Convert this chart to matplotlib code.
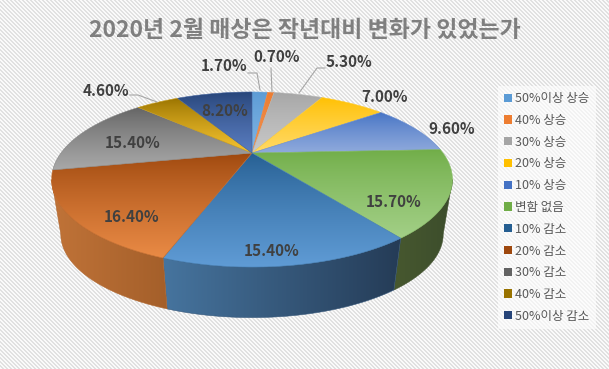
import matplotlib
matplotlib.use("Agg")
import matplotlib.pyplot as plt
import numpy as np
from matplotlib.patches import Patch, Polygon

plt.rcParams['font.family'] = ['Noto Sans CJK KR', 'DejaVu Sans']

title = "2020년 2월 매상은 작년대비 변화가 있었는가"
categories = ["50%이상 상승", "40% 상승", "30% 상승", "20% 상승", "10% 상승", "변함 없음",
              "10% 감소", "20% 감소", "30% 감소", "40% 감소", "50%이상 감소"]
values = [1.7, 0.7, 5.3, 7.0, 9.6, 15.7, 15.4, 16.4, 15.4, 4.6, 8.2]

top_dark = ["#5b9bd5", "#ed7d31", "#a5a5a5", "#ffc000", "#4472c4", "#70ad47",
            "#255e91", "#9e480e", "#636363", "#997300", "#264478"]
top_light = ["#7fb3e3", "#f09050", "#c8c8c8", "#ffd966", "#8faadc", "#a2cf86",
             "#5f9bd5", "#e98a45", "#a8a8a8", "#f5c330", "#5a7dc0"]
side_left = ["#3f6a92", "#a05a28", "#777777", "#b08a20", "#35588f", "#47582f",
             "#46749e", "#c07338", "#777777", "#b08a20", "#35588f"]
side_right = ["#3f6a92", "#a05a28", "#777777", "#b08a20", "#35588f", "#3c4d2c",
              "#253c57", "#a45f2a", "#777777", "#b08a20", "#35588f"]

# label centres in picture pixels
label_pos = [(224, 66), (277, 57), (349, 62), (384, 97), (452, 129), (394, 202),
             (272, 251), (132, 217), (133, 143), (106, 91), (225, 111)]
leaders = [[(248, 73), (257, 73), (260, 90)],
           [(271, 68), (272, 92)],
           [(325, 68), (317, 68), (299, 93)],
           [(130, 95), (138, 95), (157, 102)]]

# pie in perspective, fitted on the picture
cx, cy = 252, 153
A, C, K = 191, 79.5, 0.303
depth_scale, vanish_y = 0.954, 1365


def project(t):
    x, y = np.sin(t), np.cos(t)
    d = 1 + K * y
    return cx + A * x / d, cy - C * y / d


def lower(px, py):
    return cx + depth_scale * (px - cx), vanish_y - depth_scale * (vanish_y - py)


def hex2rgb(c):
    return np.array(matplotlib.colors.to_rgb(c))


def gradient(ax, pts, c0, c1, horizontal, z):
    pts = np.array(pts)
    x0, y0 = pts.min(axis=0)
    x1, y1 = pts.max(axis=0)
    t = np.linspace(0, 1, 64)[:, None]
    if not horizontal:
        t = t ** 0.8
    img = (1 - t) * hex2rgb(c0) + t * hex2rgb(c1)
    img = img[None, :, :] if horizontal else img[:, None, :]
    poly = Polygon(pts, closed=True, transform=ax.transData, fc="none", ec="none")
    ax.add_patch(poly)
    im = ax.imshow(img, extent=(x0, x1, y1, y0), aspect="auto", zorder=z, interpolation="bilinear")
    im.set_clip_path(poly)
    # soft edge, the clip itself is hard
    ax.add_patch(Polygon(pts, closed=True, fc="none", ec=(0.5 * hex2rgb(c0) + 0.5 * hex2rgb(c1)),
                         lw=0.4, zorder=z))


fig = plt.figure(figsize=(6.09, 3.69), dpi=100)
ax = fig.add_axes([0, 0, 1, 1])

yy, xx = np.indices((369, 609))
stripes = np.where((xx - yy) % 4 < 2, 0.98, 0.88)
ax.imshow(stripes, cmap="gray", vmin=0, vmax=1, extent=(0, 609, 369, 0), aspect="auto",
          interpolation="nearest", zorder=0)

edges = np.cumsum([0] + values) / sum(values) * 2 * np.pi

# only the front of the wall shows, between the two tangent points
front_a = np.arccos(-K)
front_b = 2 * np.pi - front_a
for i in range(len(values)):
    a, b = max(edges[i], front_a), min(edges[i + 1], front_b)
    if a >= b:
        continue
    px, py = project(np.linspace(a, b, 80))
    bx, by = lower(px, py)
    wall = list(zip(px, py)) + list(zip(bx[::-1], by[::-1]))
    gradient(ax, wall, side_left[i], side_right[i], True, 2)

for i in range(len(values)):
    t = np.linspace(edges[i], edges[i + 1], 80)
    px, py = project(t)
    gradient(ax, [(cx, cy)] + list(zip(px, py)), top_dark[i], top_light[i], False, 3)

for pts in leaders:
    ax.plot(*zip(*pts), color="#a6a6a6", lw=0.8, zorder=4)

for v, (x, y) in zip(values, label_pos):
    ax.text(x, y, f"{v:.2f}%", ha="center", va="center", fontsize=11, fontweight="bold",
            color="#404040", zorder=5)

ax.text(305, 30, title, ha="center", va="center", fontsize=16.5, fontweight="bold", color="#7f7f7f", zorder=5)

handles = [Patch(fc=c, ec="none") for c in top_dark]
leg = ax.legend(handles, categories, loc="upper left", bbox_to_anchor=(498, 86),
                bbox_transform=ax.transData, fontsize=9, labelcolor="#595959", frameon=True,
                fancybox=False, edgecolor="none", facecolor="white", framealpha=0.6,
                handlelength=0.64, handleheight=0.64, handletextpad=0.24, labelspacing=0.7,
                borderpad=0.5, borderaxespad=0)
leg.set_zorder(5)

ax.set_xlim(0, 609)
ax.set_ylim(369, 0)
ax.axis("off")
fig.savefig("out.png", dpi=100)
